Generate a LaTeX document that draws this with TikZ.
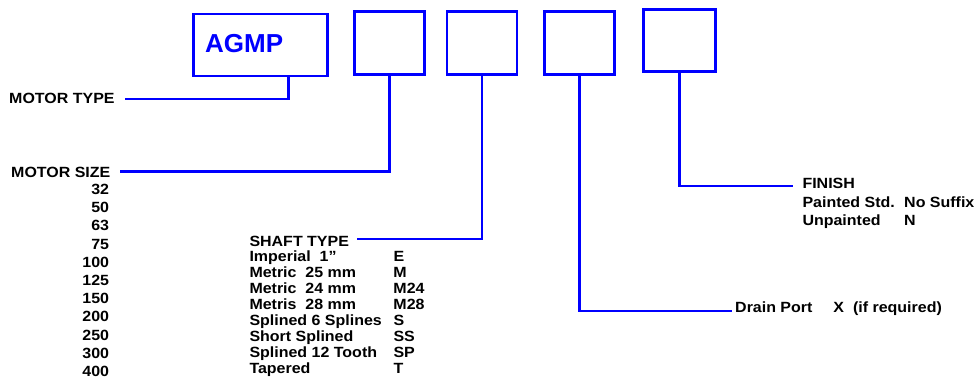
\documentclass[tikz,border=0pt]{standalone}
\usepackage{fontspec}
\setmainfont{Liberation Sans}[FakeStretch=1.08]
\newfontfamily\agmpfont{Liberation Sans}

\begin{document}
\begin{tikzpicture}[
    x=1pt, y=-1pt,
    slot/.style={draw=blue, line width=2.8pt, minimum width=70pt,
                 minimum height=63pt, inner sep=0pt},
    lead/.style={draw=blue, line width=2.5pt},
    lbl/.style={anchor=base west, inner sep=0pt,
                font=\fontsize{14.8}{16}\selectfont\bfseries},
]
\useasboundingbox (0,0) rectangle (976,378);

% code boxes
\node[slot, minimum width=134pt, minimum height=62pt] (agmp) at (260.7,45) {};
\node[anchor=base west, inner sep=0pt, text=blue,
      font=\agmpfont\bfseries\fontsize{26}{28}\selectfont] (agmptext) at (205,52) {AGMP};
\node[slot] (sizebox)   at (389.7,43.3) {};
\node[slot] (shaftbox)  at (482,42.7) {};
\node[slot] (drainbox)  at (579.3,42.7) {};
\node[slot, minimum width=72pt, minimum height=62pt] (finishbox) at (679.3,40.7) {};

% headings
\node[lbl] (mtype)  at (9,103.3)    {MOTOR TYPE};
\node[lbl] (msize)  at (11,177.5)   {MOTOR SIZE};
\node[lbl] (stype)  at (249.3,246)  {SHAFT TYPE};
\node[lbl] (finish) at (802.3,188.3) {FINISH};
\node[lbl] (drain)  at (735,312.3)  {\makebox[98.3pt][l]{Drain Port}X\ \ (if required)};

% option lists
\node[lbl, anchor=base east] (sizes) at (109.3,194.3)
    {\fontsize{14.8}{18.24}\selectfont\begin{tabular}[t]{@{}r@{}}
     32\\50\\63\\75\\100\\125\\150\\200\\250\\300\\400
     \end{tabular}};
\node[lbl] (shafts) at (249.3,261.7)
    {\fontsize{14.8}{16}\selectfont\begin{tabular}[t]{@{}p{144pt}@{}l@{}}
     Imperial\ \ 1” & E\\
     Metric\ \ 25 mm & M\\
     Metric\ \ 24 mm & M24\\
     Metris\ \ 28 mm & M28\\
     Splined 6 Splines & S\\
     Short Splined & SS\\
     Splined 12 Tooth & SP\\
     Tapered & T
     \end{tabular}};
\node[lbl] (finishes) at (802.3,207.3)
    {\fontsize{14.8}{18.4}\selectfont\begin{tabular}[t]{@{}p{101.7pt}@{}l@{}}
     Painted Std. & No Suffix\\
     Unpainted & N
     \end{tabular}};

% leaders
\draw[lead] ([xshift=28pt]agmp.south) |- ([xshift=10pt,yshift=4.3pt]mtype.base east);
\draw[lead] (sizebox.south) |- ([xshift=9pt,yshift=6.2pt]msize.base east);
\draw[lead] (shaftbox.south) |- ([xshift=8pt,yshift=7pt]stype.base east);
\draw[lead] (drainbox.south) |- ([xshift=-3pt,yshift=1.3pt]drain.base west);
\draw[lead] (finishbox.south) |- ([xshift=-9.6pt,yshift=2.3pt]finish.base west);
\end{tikzpicture}
\end{document}
